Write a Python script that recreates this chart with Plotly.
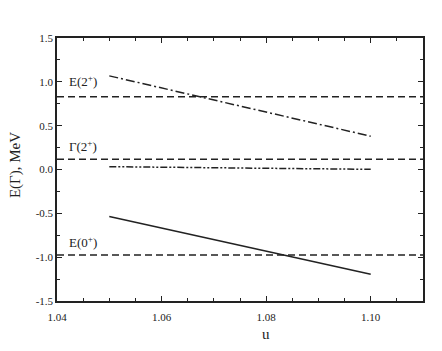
import plotly.graph_objects as go

# data
u_ends = [1.05, 1.10]
e2_calc = [1.068, 0.38]       # dash-dot
g2_calc = [0.032, 0.002]      # dash-dot-dot
e0_calc = [-0.537, -1.194]    # solid
x_span = [1.04, 1.11]
e2_exp = 0.83
g2_exp = 0.116
e0_exp = -0.974
level_labels = ["E(2<sup>+</sup>)", "Γ(2<sup>+</sup>)", "E(0<sup>+</sup>)"]
level_values = [e2_exp, g2_exp, e0_exp]

FONT = "Liberation Serif, Times New Roman, serif"
label_shifts = [6, 3, 3]

fig = go.Figure()

for yv in level_values:
    fig.add_trace(go.Scatter(x=x_span, y=[yv, yv], mode="lines",
                             line=dict(color="#222", width=1.5, dash="7px,4px"),
                             showlegend=False, hoverinfo="skip"))

fig.add_trace(go.Scatter(x=u_ends, y=e2_calc, mode="lines",
                         line=dict(color="#222", width=1.5, dash="9px,3px,2px,3px"),
                         showlegend=False))
fig.add_trace(go.Scatter(x=u_ends, y=g2_calc, mode="lines",
                         line=dict(color="#222", width=1.5, dash="7px,2px,2px,2px,2px,2px"),
                         showlegend=False))
fig.add_trace(go.Scatter(x=u_ends, y=e0_calc, mode="lines",
                         line=dict(color="#222", width=1.5),
                         showlegend=False))

for lab, yv, sh in zip(level_labels, level_values, label_shifts):
    fig.add_annotation(x=1.042, y=yv, text=lab, showarrow=False,
                       xanchor="left", yanchor="bottom", yshift=sh,
                       font=dict(family=FONT, size=13, color="#222"))

# axis titles as annotations so the margins stay fixed
fig.add_annotation(x=1.08, y=0, yref="paper", yshift=-33, yanchor="middle",
                   text="u", showarrow=False,
                   font=dict(family=FONT, size=15, color="#222"))
fig.add_annotation(x=0, xref="paper", xshift=-42, xanchor="center",
                   y=0.05, yanchor="middle", text="E(Γ), MeV",
                   textangle=-90, showarrow=False,
                   font=dict(family=FONT, size=15, color="#222"))

axis_common = dict(showgrid=False, zeroline=False, showline=True, linecolor="#222",
                   linewidth=1.5, mirror="allticks", ticks="inside", ticklen=5,
                   tickcolor="#222", automargin=False,
                   tickfont=dict(family=FONT, size=11, color="#222"))

fig.update_xaxes(range=[1.04, 1.11], tickvals=[1.04, 1.06, 1.08, 1.10],
                 ticktext=["1.04", "1.06", "1.08", "1.10"], ticklabelstandoff=5,
                 minor=dict(dtick=0.005, ticks="inside", ticklen=3, tickcolor="#222"),
                 **axis_common)
fig.update_yaxes(range=[-1.5, 1.5], tickvals=[-1.5, -1.0, -0.5, 0.0, 0.5, 1.0, 1.5],
                 ticktext=["-1.5", "-1.0", "-0.5", "0.0", "0.5", "1.0", "1.5"],
                 minor=dict(dtick=0.25, tick0=0, ticks="inside", ticklen=3, tickcolor="#222"),
                 **axis_common)

# page body adds an 8px offset, so the figure is a bit smaller than the window
fig.update_layout(width=434, height=343, margin=dict(l=49, r=19, t=30, b=50),
                  plot_bgcolor="white", paper_bgcolor="white",
                  font=dict(family=FONT, color="#222"))

fig.write_html("out.html")
